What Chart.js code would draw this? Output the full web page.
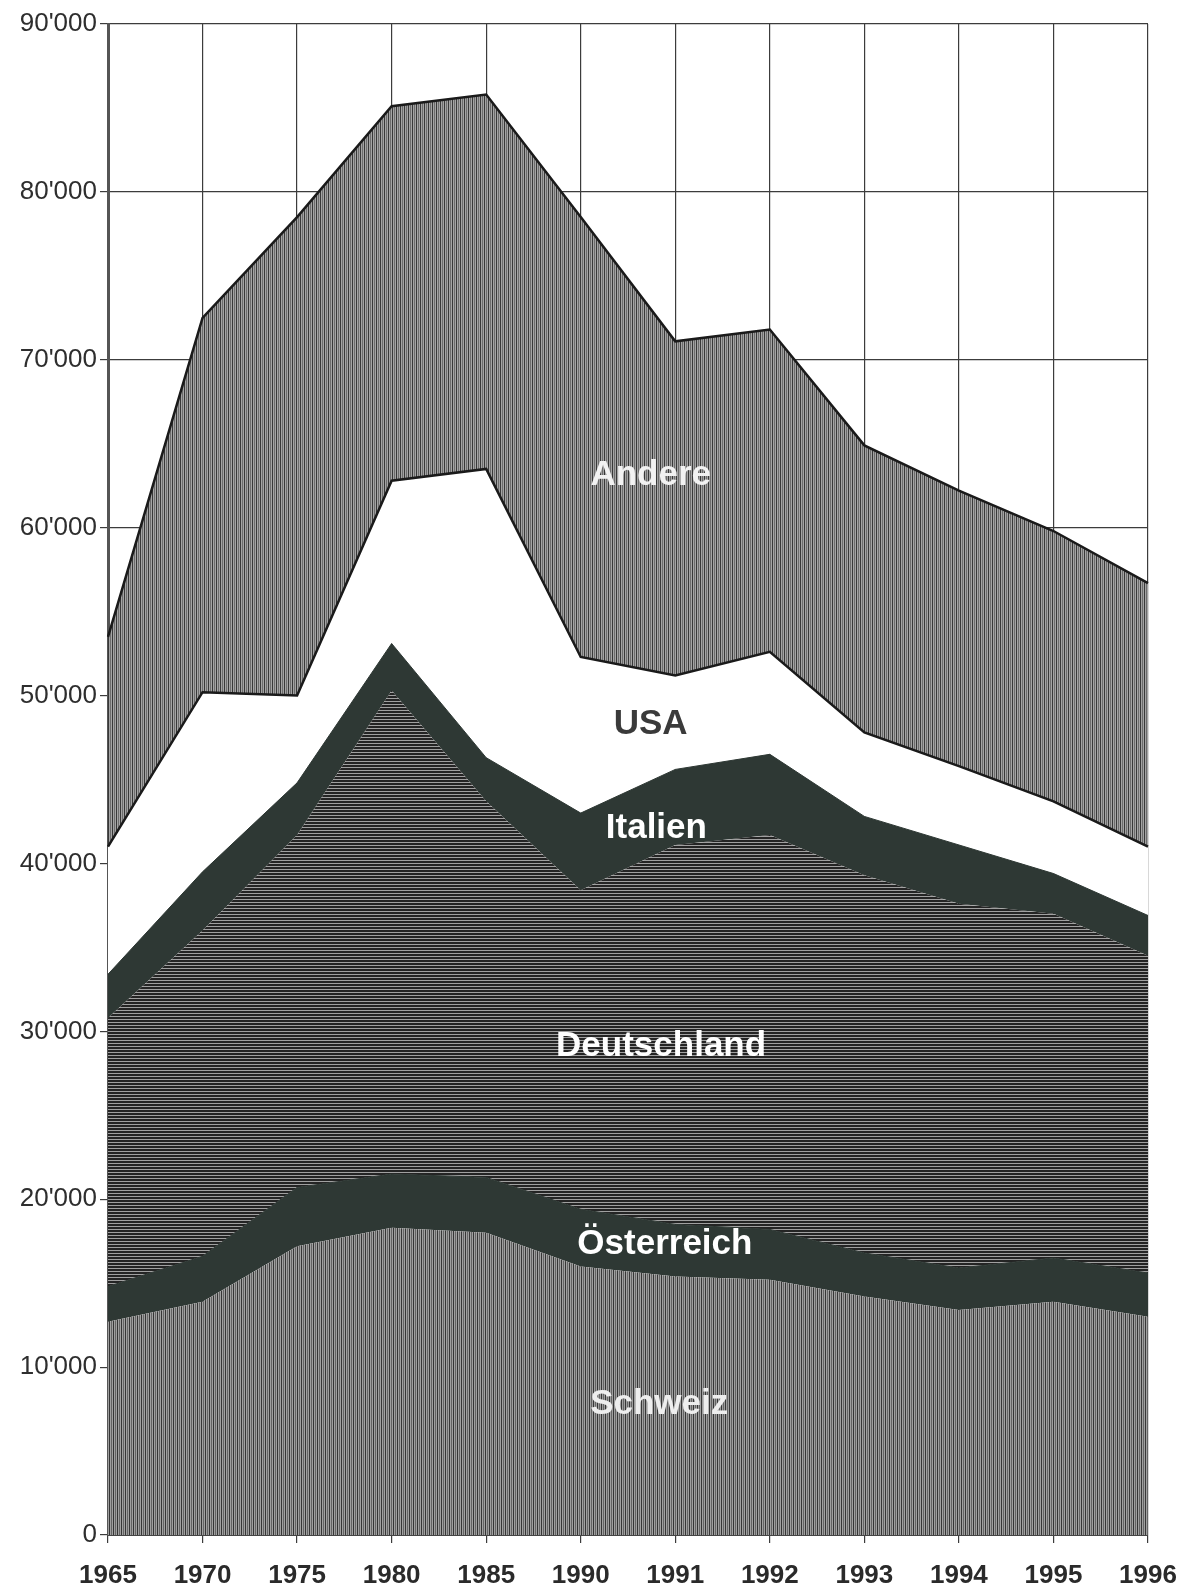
<!DOCTYPE html>
<html>
<head>
<meta charset="utf-8">
<script src="https://cdn.jsdelivr.net/npm/chart.js@4"></script>
<style>
  html, body { margin: 0; padding: 0; background: #fff; }
</style>
</head>
<body>
<canvas id="myChart" width="1186" height="1593"></canvas>
<script>
// categories (x axis)
var years = ['1965', '1970', '1975', '1980', '1985', '1990', '1991', '1992', '1993', '1994', '1995', '1996'];

// series values (stacked, bottom to top)
var schweiz     = [12700, 13900, 17200, 18300, 18000, 16000, 15400, 15200, 14200, 13400, 13900, 13000];
var oesterreich = [2100, 2700, 3500, 3200, 3300, 3400, 3100, 3000, 2600, 2500, 2600, 2600];
var deutschland = [16000, 19400, 21000, 28800, 22400, 19000, 22600, 23500, 22500, 21700, 20500, 18900];
var italien     = [2600, 3500, 3100, 2800, 2600, 4600, 4500, 4800, 3500, 3500, 2400, 2400];
var usa         = [7600, 10700, 5200, 9700, 17200, 9300, 5600, 6100, 5000, 4700, 4300, 4100];
var andere      = [12500, 22300, 28500, 22300, 22300, 26200, 19900, 19200, 17100, 16400, 16100, 15700];

// y axis ticks
var yTicks = [0, 10000, 20000, 30000, 40000, 50000, 60000, 70000, 80000, 90000];

// area labels inside the chart: [text, x index, y value, colour]
var areaLabels = [
  ['Andere', 5.74, 63100, '#f2f2f2'],
  ['USA', 5.74, 48300, '#3a3a3a'],
  ['Italien', 5.80, 42100, '#ffffff'],
  ['Deutschland', 5.85, 29100, '#ffffff'],
  ['Österreich', 5.89, 17300, '#ffffff'],
  ['Schweiz', 5.83, 7800, '#eeeeee']
];

function fmt(v) {
  return String(v).replace(/\B(?=(\d{3})+(?!\d))/g, "'");
}

// hatch fills like the scanned original
function makePattern(w, h, draw) {
  var c = document.createElement('canvas');
  c.width = w; c.height = h;
  var g = c.getContext('2d');
  draw(g, w, h);
  return g.createPattern(c, 'repeat');
}

var vertHatch = makePattern(4, 4, function (g, w, h) {
  g.fillStyle = '#a4a4a4'; g.fillRect(0, 0, w, h);
  g.fillStyle = '#383838'; g.fillRect(0, 0, 1, h);
  g.fillStyle = '#6c6c6c'; g.fillRect(2, 0, 1, h);
});
var vertHatch2 = makePattern(4, 4, function (g, w, h) {
  g.fillStyle = '#a0a0a0'; g.fillRect(0, 0, w, h);
  g.fillStyle = '#363636'; g.fillRect(1, 0, 1, h);
  g.fillStyle = '#646464'; g.fillRect(3, 0, 1, h);
});
var horzHatch = makePattern(6, 3, function (g, w, h) {
  g.fillStyle = '#242424'; g.fillRect(0, 0, w, h);
  g.fillStyle = '#a0a0a0'; g.fillRect(0, 2, w, 1);
});

var labelPlugin = {
  id: 'areaLabels',
  afterDatasetsDraw: function (chart) {
    var ctx = chart.ctx;
    var xs = chart.scales.x, ys = chart.scales.y;
    ctx.save();
    ctx.font = 'bold 35px "Liberation Sans", Arial, sans-serif';
    ctx.textAlign = 'center';
    ctx.textBaseline = 'middle';
    areaLabels.forEach(function (l) {
      ctx.fillStyle = l[3];
      ctx.fillText(l[0], xs.getPixelForValue(l[1]), ys.getPixelForValue(l[2]));
    });
    ctx.restore();
  }
};

var series = [
  { label: 'Schweiz', data: schweiz, bg: vertHatch2, border: 'rgba(0,0,0,0)', bw: 0 },
  { label: 'Österreich', data: oesterreich, bg: '#2e3834', border: '#2e3834', bw: 1 },
  { label: 'Deutschland', data: deutschland, bg: horzHatch, border: 'rgba(0,0,0,0)', bw: 0 },
  { label: 'Italien', data: italien, bg: '#2e3834', border: '#2e3834', bw: 1 },
  { label: 'USA', data: usa, bg: '#ffffff', border: '#1a1a1a', bw: 2.5 },
  { label: 'Andere', data: andere, bg: vertHatch, border: '#1a1a1a', bw: 2.5 }
];

var ctx = document.getElementById('myChart').getContext('2d');

var myChart = new Chart(ctx, {
  type: 'line',
  data: {
    labels: years,
    datasets: series.map(function (s, i) {
      return {
        label: s.label,
        data: s.data,
        backgroundColor: s.bg,
        borderColor: s.border,
        borderWidth: s.bw,
        fill: i === 0 ? 'origin' : '-1',
        pointRadius: 0,
        tension: 0
      };
    })
  },
  options: {
    responsive: false,
    animation: false,
    layout: { padding: { top: 24, right: 38, left: 0, bottom: 0 } },
    plugins: {
      legend: { display: false },
      tooltip: { enabled: false }
    },
    scales: {
      x: {
        offset: false,
        afterFit: function (scale) {
          scale.height = 58;
          scale.paddingLeft = 0;
          scale.paddingRight = 0;
        },
        grid: { color: '#3c3c3c', lineWidth: 1.2, tickLength: 8, drawTicks: true },
        border: { color: '#444', width: 2 },
        ticks: {
          autoSkip: false,
          maxRotation: 0,
          padding: 17,
          color: '#2a2a2a',
          font: { family: '"Liberation Sans", Arial, sans-serif', size: 26, weight: 'bold' }
        }
      },
      y: {
        stacked: true,
        min: 0,
        max: 90000,
        afterFit: function (scale) { scale.width = 108; },
        afterBuildTicks: function (scale) {
          scale.ticks = yTicks.map(function (v) { return { value: v }; });
        },
        grid: { color: '#3c3c3c', lineWidth: 1.2, tickLength: 8, drawTicks: true },
        border: { color: '#555', width: 3 },
        ticks: {
          padding: 3,
          color: '#2e2e2e',
          font: { family: '"Liberation Sans", Arial, sans-serif', size: 26 },
          callback: function (v) { return fmt(v); }
        }
      }
    }
  },
  plugins: [labelPlugin]
});
</script>
</body>
</html>
